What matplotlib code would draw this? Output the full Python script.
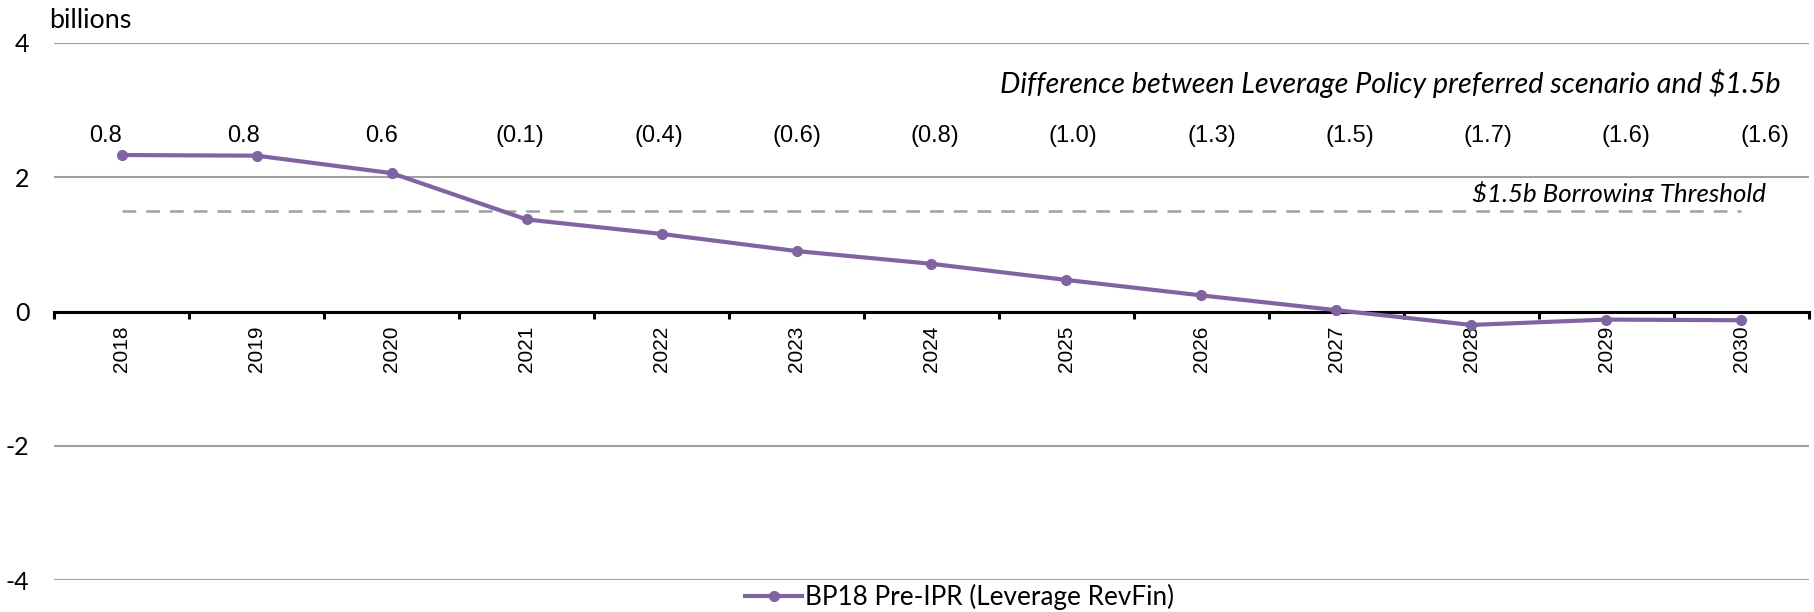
import numpy as np
import matplotlib.pyplot as plt
from matplotlib.transforms import Bbox, TransformedBbox, blended_transform_factory

# data
years = ["2018", "2019", "2020", "2021", "2022", "2023", "2024",
         "2025", "2026", "2027", "2028", "2029", "2030"]
revfin = [2.33, 2.32, 2.06, 1.37, 1.155, 0.90, 0.71, 0.47, 0.24, 0.02, -0.20, -0.12, -0.13]
diff_labels = ["0.8", "0.8", "0.6", "(0.1)", "(0.4)", "(0.6)", "(0.8)",
               "(1.0)", "(1.3)", "(1.5)", "(1.7)", "(1.6)", "(1.6)"]
threshold = 1.5

purple = "#8064A2"
grid_c = "#A0A0A0"
cal = "Lato"
arial = "Liberation Sans"

fig = plt.figure(figsize=(18.14, 6.12), dpi=100)
ax = fig.add_axes([0.030, 0.052, 0.967, 0.878])

x = np.arange(len(years))

ax.plot(x, revfin, color=purple, lw=3, marker="o", ms=7, zorder=4,
        label="BP18 Pre-IPR (Leverage RevFin)")
ax.plot([x[0], x[-1]], [threshold, threshold], color=grid_c, lw=1.8,
        dashes=(5.5, 4), zorder=3)

ax.set_xlim(-0.5, len(years) - 0.5)
ax.set_ylim(-4, 4)
ax.set_yticks([-4, -2, 0, 2, 4])
ax.set_yticklabels(["-4", "-2", "0", "2", "4"], fontfamily=cal, fontsize=18)
ax.yaxis.grid(True, color=grid_c, lw=1.5)
ax.set_axisbelow(True)
ax.tick_params(axis="y", length=0, pad=18)

for s in ["left", "right", "top"]:
    ax.spines[s].set_visible(False)
# x axis sits on zero
ax.spines["bottom"].set_position(("data", 0))
ax.spines["bottom"].set_linewidth(2.2)
ax.spines["bottom"].set_zorder(3.5)

ax.set_xticks(x)
ax.set_xticklabels(years, rotation=90, fontfamily=arial, fontsize=15, va="top")
ax.set_xticks(np.arange(-0.5, len(years)), minor=True)
ax.tick_params(axis="x", which="major", length=0, pad=10)
ax.tick_params(axis="x", which="minor", length=5, width=2.2, direction="out")

# difference row
lab_pos = np.linspace(0.029, 0.975, len(diff_labels))
trans = blended_transform_factory(ax.transAxes, ax.transData)
for px, t in zip(lab_pos, diff_labels):
    ax.text(px, 2.62, t, transform=trans, ha="center", va="center",
            fontfamily=arial, fontsize=17)

ax.text(0.984, 3.40, "Difference between Leverage Policy preferred scenario and \\$1.5b",
        transform=trans, ha="right", va="center", fontfamily=cal,
        style="italic", fontsize=20.7)

thr = ax.text(0.9755, 1.76, "\\$1.5b Borrowing Threshold", transform=trans,
              ha="right", va="center", fontfamily=cal, style="italic", fontsize=18.6)
thr.set_clip_box(TransformedBbox(Bbox([[0, 1.63], [1, 4]]), trans))
thr.set_clip_on(True)

fig.text(0.027, 0.966, "billions", fontfamily=cal, fontsize=19.4, va="center")

ax.legend(loc="center", bbox_to_anchor=(0.516, -0.031), frameon=False,
          prop={"family": cal, "size": 18.8}, handlelength=2.2, handletextpad=0.1,
          borderpad=0, borderaxespad=0)

fig.savefig("out.png", dpi=100)
